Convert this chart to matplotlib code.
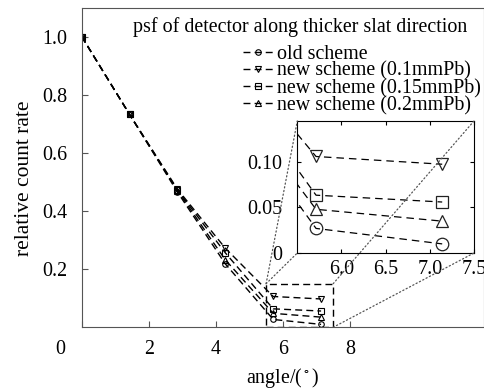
import matplotlib
matplotlib.use('Agg')
import matplotlib.pyplot as plt
from matplotlib.patches import Rectangle, ConnectionPatch
from matplotlib.transforms import ScaledTranslation

plt.rcParams['font.family'] = ['Liberation Serif', 'DejaVu Serif']
plt.rcParams['mathtext.fontset'] = 'stix'
plt.rcParams['font.size'] = 14.4

# data
angle = [0.0, 1.428, 2.856, 4.284, 5.712, 7.14]
old_scheme = [1.0, 0.732, 0.465, 0.218, 0.027, 0.010]
new_01 = [1.0, 0.732, 0.475, 0.272, 0.106, 0.0975]
new_015 = [1.0, 0.732, 0.472, 0.256, 0.0635, 0.056]
new_02 = [1.0, 0.732, 0.470, 0.232, 0.048, 0.035]
labels = ['old scheme', 'new scheme (0.1mmPb)', 'new scheme (0.15mmPb)', 'new scheme (0.2mmPb)']
markers = ['o', 'v', 's', '^']

xticks = [0, 2, 4, 6, 8]
yticks = [0.2, 0.4, 0.6, 0.8, 1.0]
zoom_x = (5.5, 7.5)
zoom_y_box = (0.0, 0.15)
zoom_y_inset = (0.0, 0.145)
inset_xticks = [6.0, 6.5, 7.0, 7.5]
inset_yticks = [0, 0.05, 0.10]

series = [old_scheme, new_01, new_015, new_02]

fig = plt.figure(figsize=(4.85, 3.89), dpi=100)
ax = fig.add_axes([0.1685, 0.1586, 0.8295, 0.8221])
for vals, m, lab in zip(series, markers, labels):
    ax.plot(angle, vals, color='black', lw=1.0, dashes=(5, 3), marker=m,
            markersize=4, markerfacecolor='none', markeredgecolor='black',
            markeredgewidth=0.8, label=lab)

ax.set_xlim(0, 12)
ax.set_ylim(0, 1.1)
ax.set_xticks(xticks)
ax.set_xticklabels([str(t) for t in xticks])
ax.set_yticks(yticks)
ax.set_yticklabels(['%.1f' % t for t in yticks])
ax.tick_params(direction='in', length=4.5, color='#555555')
ax.tick_params(axis='x', pad=9.5)
ax.tick_params(axis='y', pad=10.5)
for s in ax.spines.values():
    s.set_color('#555555')
# the "0" label sits left of the origin in the original
tick0 = ax.xaxis.get_major_ticks()[0]
tick0.label1.set_transform(tick0.label1.get_transform() +
                           ScaledTranslation(-0.21, 0, fig.dpi_scale_trans))

ax.set_xlabel(r'angle/($^\circ$)')
ax.set_ylabel('relative count rate', fontsize=15.5)
ax.xaxis.set_label_coords(0.5, -0.122)
ax.yaxis.set_label_coords(-0.118, 0.465)

ax.text(0.5426, 0.94, 'psf of detector along thicker slat direction',
        transform=ax.transAxes, ha='center', va='center')

ax.legend(loc='upper left', bbox_to_anchor=(0.401, 0.884), frameon=False,
          borderpad=0, borderaxespad=0, labelspacing=-0.1, handlelength=1.5,
          handletextpad=0.2, numpoints=1)

# zoom box
ax.add_patch(Rectangle((zoom_x[0], zoom_y_box[0]), zoom_x[1] - zoom_x[0],
                       zoom_y_box[1] - zoom_y_box[0], fill=False,
                       edgecolor='black', lw=1.0, linestyle=(0, (5, 3))))

# inset
axin = fig.add_axes([0.613, 0.3496, 0.3643, 0.3394])
for vals, m in zip(series, markers):
    axin.plot(angle, vals, color='black', lw=0.9, dashes=(6, 4), marker=m,
              markersize=9, markerfacecolor='none', markeredgecolor='#222222',
              markeredgewidth=0.9)
axin.set_xlim(*zoom_x)
axin.set_ylim(*zoom_y_inset)
axin.set_xticks(inset_xticks)
axin.set_xticklabels(['%.1f' % t for t in inset_xticks])
axin.set_yticks(inset_yticks)
axin.set_yticklabels(['0', '0.05', '0.10'])
axin.tick_params(direction='in', length=3, top=True, right=True)
axin.tick_params(axis='x', pad=5.3)
axin.tick_params(axis='y', pad=11)

# dotted connectors from box corners to inset corners
pairs = [((zoom_x[0], zoom_y_box[1]), (0, 1)),
         ((zoom_x[0], zoom_y_box[1]), (0, 0)),
         ((zoom_x[1], zoom_y_box[1]), (1, 1)),
         ((zoom_x[1], zoom_y_box[0]), (1, 0))]
for p_main, p_in in pairs:
    con = ConnectionPatch(xyA=p_main, coordsA=ax.transData,
                          xyB=p_in, coordsB=axin.transAxes,
                          color='#555555', lw=0.9, linestyle=(0, (1, 2)))
    fig.add_artist(con)

fig.savefig('out.png', dpi=100)
